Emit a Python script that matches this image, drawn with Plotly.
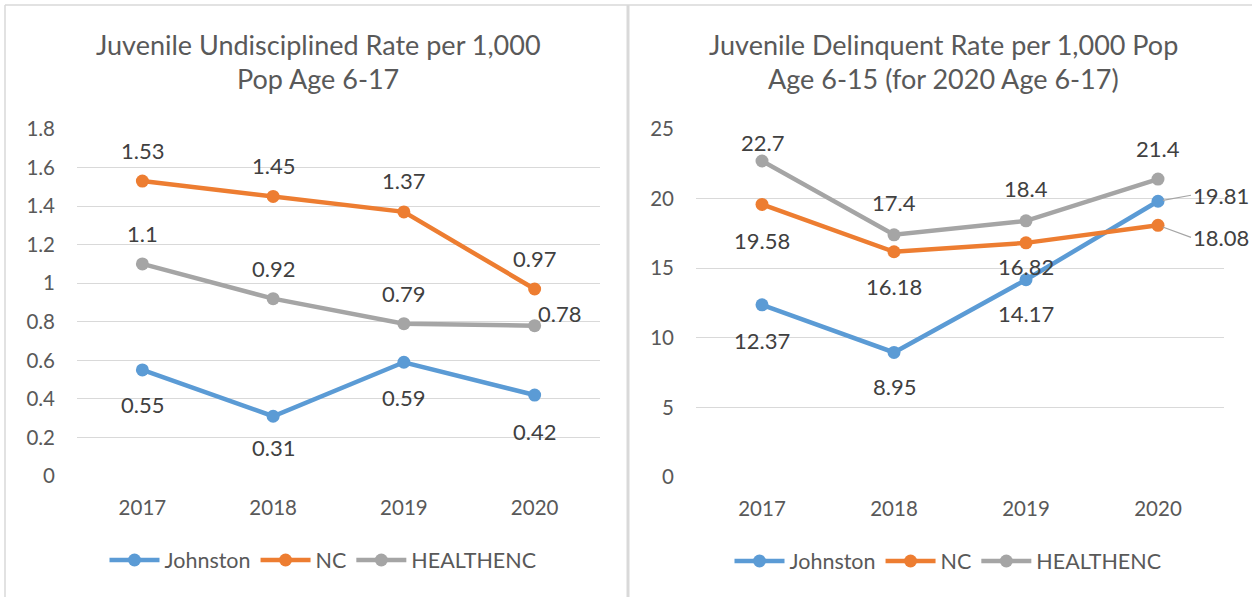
import plotly.graph_objects as go

# ---------------- data ----------------
years = ["2017", "2018", "2019", "2020"]
series_names = ["Johnston", "NC", "HEALTHENC"]

undisc_johnston = [0.55, 0.31, 0.59, 0.42]
undisc_nc = [1.53, 1.45, 1.37, 0.97]
undisc_healthenc = [1.1, 0.92, 0.79, 0.78]

delinq_johnston = [12.37, 8.95, 14.17, 19.81]
delinq_nc = [19.58, 16.18, 16.82, 18.08]
delinq_healthenc = [22.7, 17.4, 18.4, 21.4]

left_title = ["Juvenile Undisciplined Rate per 1,000", "Pop Age 6-17"]
right_title = ["Juvenile Delinquent Rate per 1,000 Pop", "Age 6-15 (for 2020 Age 6-17)"]

# ---------------- style ----------------
W, H = 1252, 597
FONT = "Lato"
colors = ["#5B9BD5", "#ED7D31", "#A5A5A5"]
grid = "#D9D9D9"
txt = "#595959"
lbl = "#404040"
LBL_SIZE = 22
TICK_SIZE = 20.5
LEG_SIZE = 21.5
TITLE_SIZE = 27

# label placement per point: (xshift, yshift, xanchor) ; "L" = leader line
left_label_pos = [
    [(0, -35, "center"), (0, -31, "center"), (0, -35, "center"), (0, -36, "center")],
    [(0, 31, "center")] * 4,
    [(0, 30, "center"), (0, 30, "center"), (0, 30, "center"), (1, 12, "left")],
]
right_label_pos = [
    [(0, -36, "center"), (0, -34, "center"), (0, -34, "center"), "L1"],
    [(0, -36, "center"), (0, -35, "center"), (0, -24, "center"), "L2"],
    [(0, 19, "center"), (0, 32, "center"), (0, 32, "center"), (0, 31, "center")],
]
leaders = {"L1": (33, -6), "L2": (33, 12)}


def px(x):
    return x / W


def py(y):
    return 1 - y / H


fig = go.Figure()

left_data = [undisc_johnston, undisc_nc, undisc_healthenc]
right_data = [delinq_johnston, delinq_nc, delinq_healthenc]

annotations = []

for i, (name, vals) in enumerate(zip(series_names, left_data)):
    fig.add_trace(go.Scatter(
        x=years, y=vals, name=name, mode="lines+markers",
        line=dict(color=colors[i], width=4.5),
        marker=dict(color=colors[i], size=13),
        xaxis="x", yaxis="y", legend="legend", hoverinfo="skip"))
    for j, v in enumerate(vals):
        xs, ys, xa = left_label_pos[i][j]
        annotations.append(dict(
            x=j, y=v, xref="x", yref="y", text=f"{v:g}",
            showarrow=False, xshift=xs, yshift=ys, xanchor=xa, yanchor="middle",
            font=dict(family=FONT, size=LBL_SIZE, color=lbl)))

for i, (name, vals) in enumerate(zip(series_names, right_data)):
    fig.add_trace(go.Scatter(
        x=years, y=vals, name=name, mode="lines+markers",
        line=dict(color=colors[i], width=4.5),
        marker=dict(color=colors[i], size=13),
        xaxis="x2", yaxis="y2", legend="legend2", hoverinfo="skip"))
    for j, v in enumerate(vals):
        pos = right_label_pos[i][j]
        if isinstance(pos, str):
            ax, ay = leaders[pos]
            annotations.append(dict(
                x=j, y=v, xref="x2", yref="y2", text=f"{v:g}",
                showarrow=True, arrowhead=0, arrowwidth=1.2, arrowcolor="#A5A5A5",
                ax=ax, ay=ay, xanchor="left", yanchor="middle", standoff=5,
                font=dict(family=FONT, size=LBL_SIZE, color=lbl)))
        else:
            xs, ys, xa = pos
            annotations.append(dict(
                x=j, y=v, xref="x2", yref="y2", text=f"{v:g}",
                showarrow=False, xshift=xs, yshift=ys, xanchor=xa, yanchor="middle",
                font=dict(family=FONT, size=LBL_SIZE, color=lbl)))

# titles
for k, line in enumerate(left_title):
    annotations.append(dict(x=px(318), y=py(45 + 33 * k), xref="paper", yref="paper",
                            text=line, showarrow=False, xanchor="center", yanchor="middle",
                            font=dict(family=FONT, size=TITLE_SIZE, color=txt)))
for k, line in enumerate(right_title):
    annotations.append(dict(x=px(943), y=py(45 + 33 * k), xref="paper", yref="paper",
                            text=line, showarrow=False, xanchor="center", yanchor="middle",
                            font=dict(family=FONT, size=TITLE_SIZE, color=txt)))

xaxis_common = dict(type="category", range=[-0.5, 3.5], showgrid=False, zeroline=False,
                    showline=False, ticks="", ticklabelstandoff=17, automargin=False,
                    tickfont=dict(family=FONT, size=TICK_SIZE, color=txt), fixedrange=True)
yaxis_common = dict(showgrid=True, gridcolor=grid, gridwidth=1, zeroline=False,
                    showline=False, ticks="", ticklabelstandoff=21, automargin=False,
                    tickfont=dict(family=FONT, size=TICK_SIZE, color=txt), fixedrange=True)

fig.update_layout(
    width=W, height=H,
    margin=dict(l=0, r=0, t=0, b=0, pad=0),
    paper_bgcolor="white", plot_bgcolor="white",
    font=dict(family=FONT, color=txt),
    xaxis=dict(domain=[px(77), px(600)], anchor="y", **xaxis_common),
    yaxis=dict(domain=[py(476), py(129)], anchor="x", range=[0, 1.8], dtick=0.2,
               tickformat="~g", **yaxis_common),
    xaxis2=dict(domain=[px(696), px(1224)], anchor="y2", **xaxis_common),
    yaxis2=dict(domain=[py(477), py(129)], anchor="x2", range=[0, 25], dtick=5,
                **yaxis_common),
    legend=dict(orientation="h", x=px(323), y=py(560), xanchor="center", yanchor="middle",
                font=dict(family=FONT, size=LEG_SIZE, color=txt), bgcolor="rgba(0,0,0,0)",
                itemwidth=50),
    legend2=dict(orientation="h", x=px(948), y=py(561), xanchor="center", yanchor="middle",
                 font=dict(family=FONT, size=LEG_SIZE, color=txt), bgcolor="rgba(0,0,0,0)",
                 itemwidth=50),
    annotations=annotations,
    showlegend=True,
    shapes=[
        dict(type="line", xref="paper", yref="paper", x0=px(5), x1=1, y0=py(5), y1=py(5),
             line=dict(color=grid, width=1.5)),
        dict(type="line", xref="paper", yref="paper", x0=px(5), x1=px(5), y0=0, y1=py(5),
             line=dict(color=grid, width=1.5)),
        dict(type="line", xref="paper", yref="paper", x0=px(628), x1=px(628), y0=0, y1=py(5),
             line=dict(color=grid, width=3)),
    ],
)

fig.write_html("out.html", config={"displayModeBar": False},
               post_script="document.body.style.margin='0';")
